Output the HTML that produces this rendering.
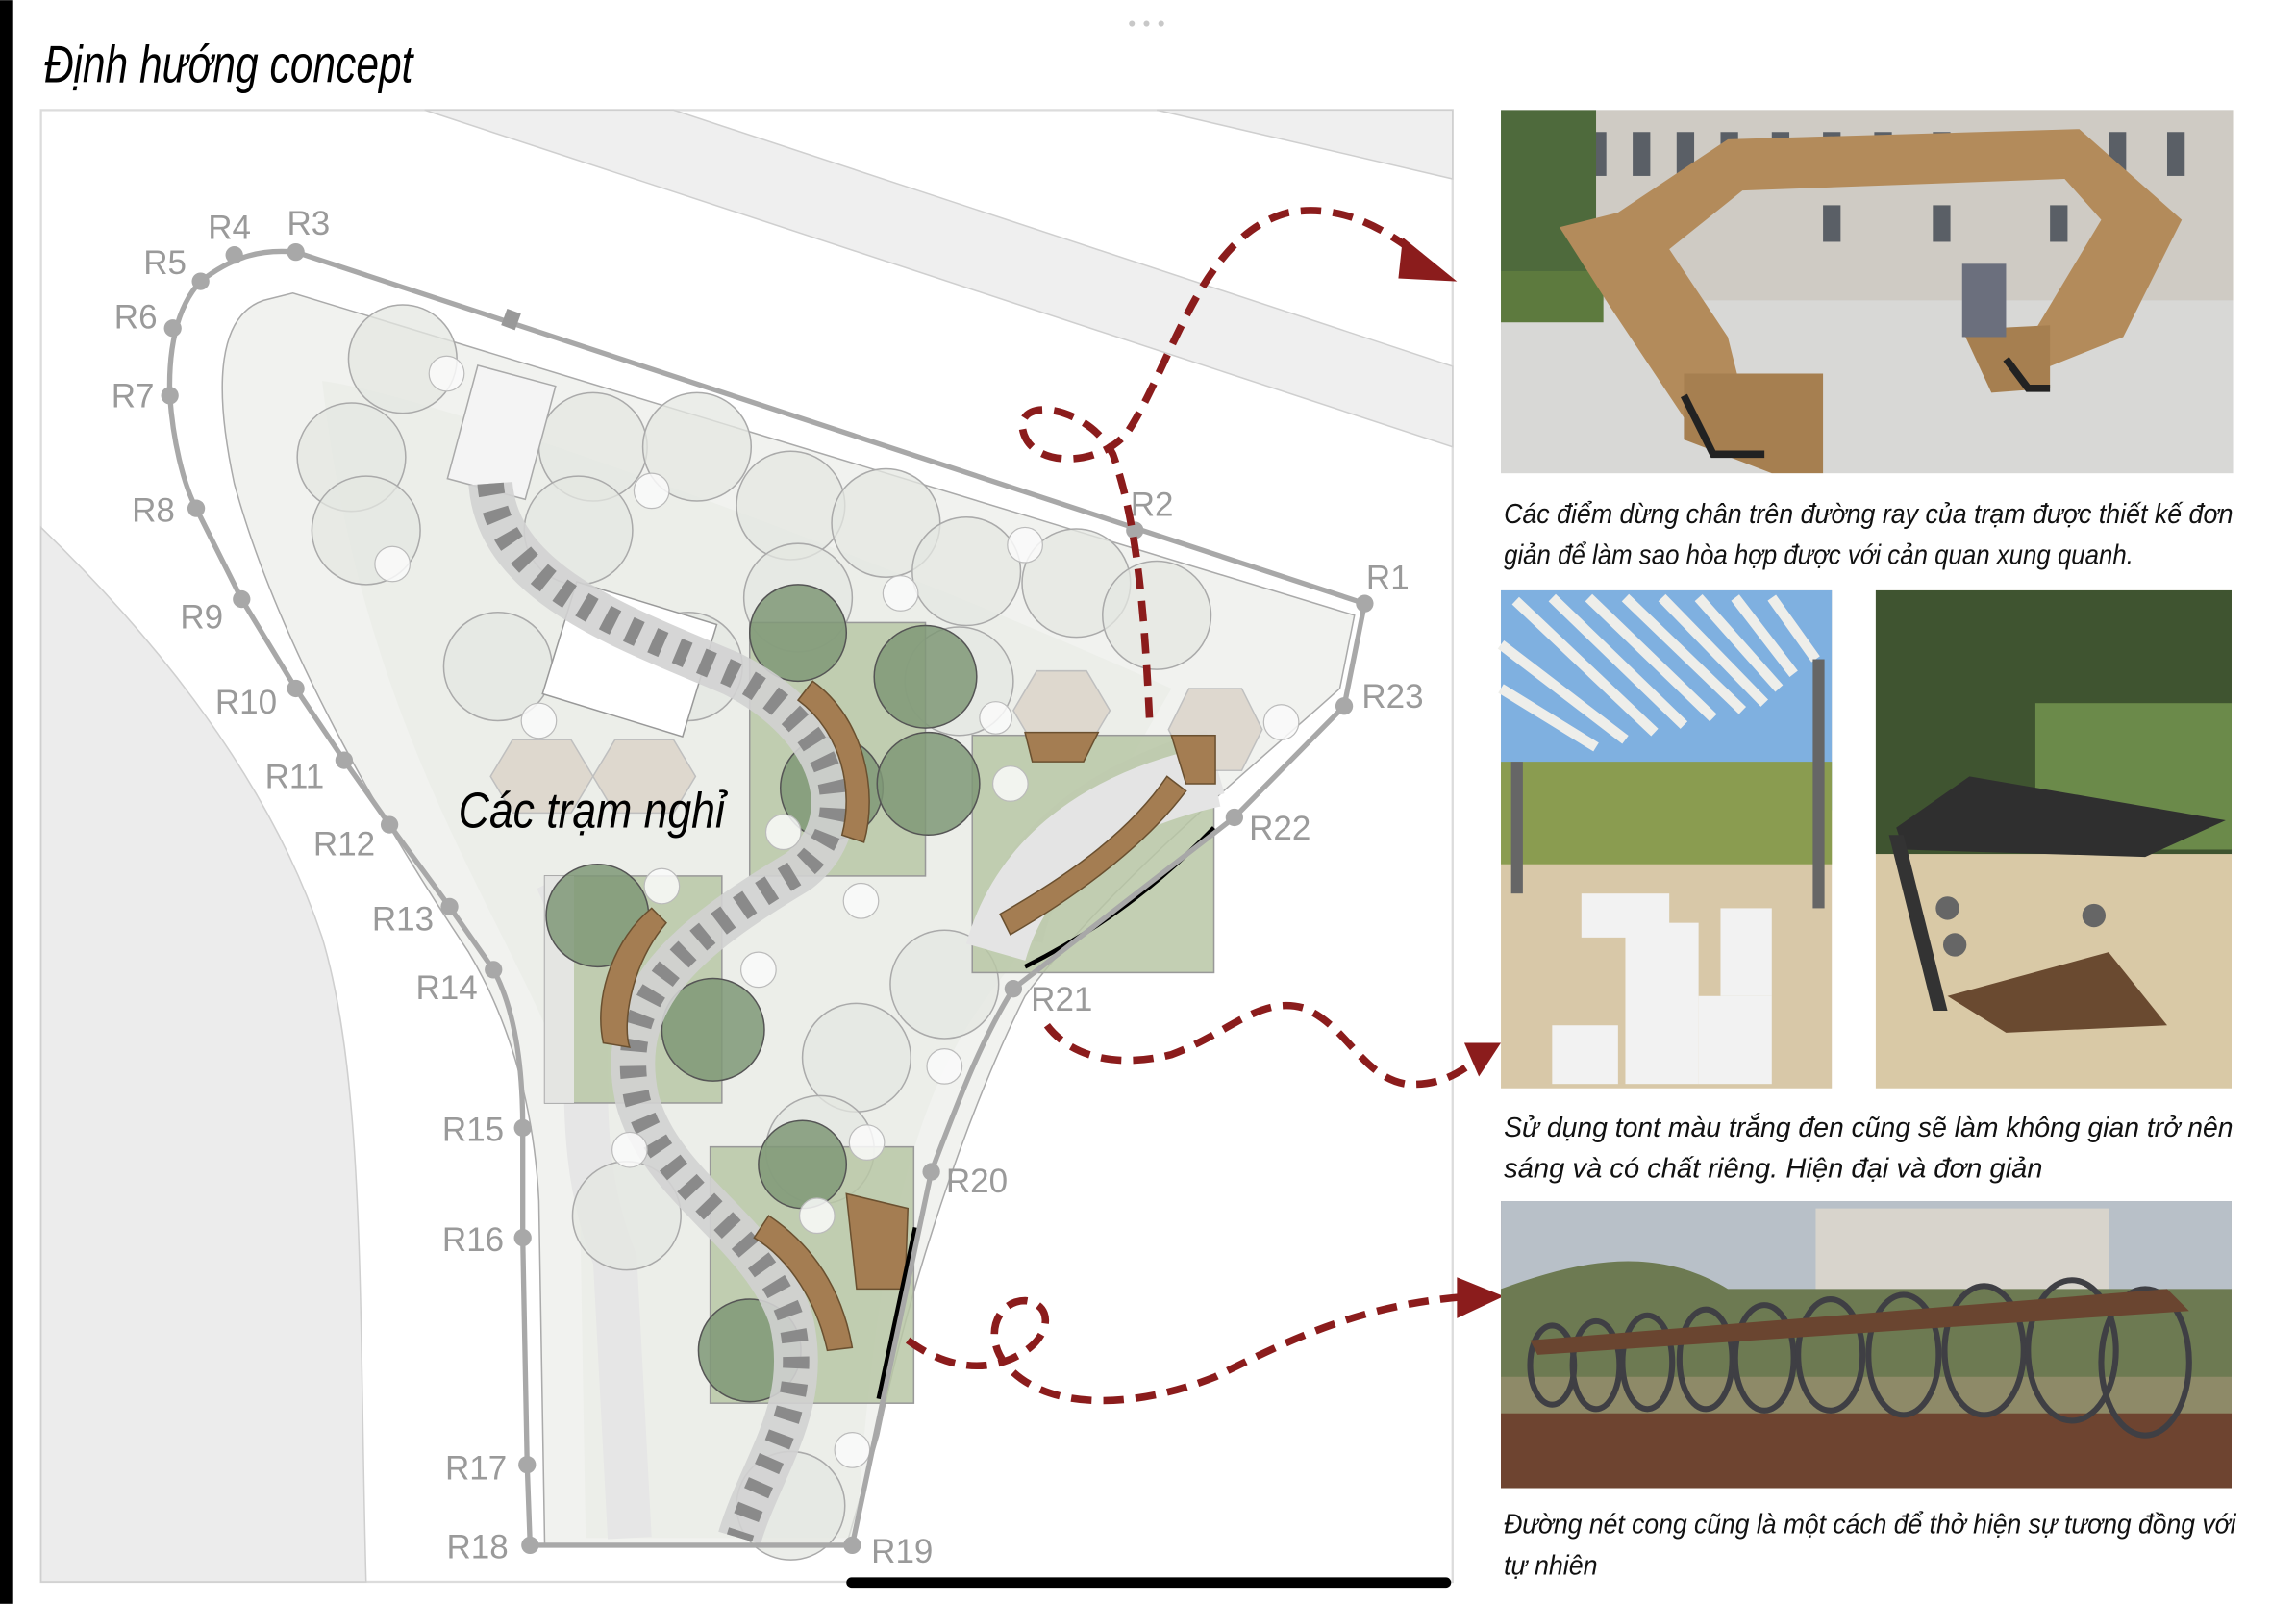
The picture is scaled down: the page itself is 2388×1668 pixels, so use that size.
<!DOCTYPE html>
<html><head><meta charset="utf-8"><style>
html,body{margin:0;padding:0;background:#fff;}
svg{display:block;}
text{font-family:"Liberation Sans",sans-serif;}
</style></head><body>
<svg width="2388" height="1668" viewBox="0 0 1568 1095" xmlns="http://www.w3.org/2000/svg">
<rect width="1568" height="1095" fill="#fff"/>
<rect x="0" y="0" width="9" height="1095" fill="#000"/>
<g fill="#c8c8c8"><circle cx="773" cy="16" r="2"/><circle cx="783" cy="16" r="2"/><circle cx="793" cy="16" r="2"/></g>
<text x="30" y="56" font-size="36" font-style="italic" textLength="252" lengthAdjust="spacingAndGlyphs" fill="#000">Định hướng concept</text>

<!-- map -->
<rect x="28" y="75" width="964" height="1005" fill="#fff" stroke="#dcdcdc" stroke-width="1.5"/>
<polygon points="290,75 460,75 992,250 992,305" fill="#efefef" stroke="#cfcfcf"/>
<polygon points="790,75 992,75 992,122" fill="#efefef" stroke="#cfcfcf"/>
<path d="M28,360 C 90,420 180,520 220,640 C 250,740 245,900 250,1080 L28,1080 Z" fill="#ececec" stroke="#cfcfcf"/>
<!-- site fill -->
<path d="M180,205 C 150,215 145,260 160,330 C 190,440 260,560 320,650 C 350,700 365,760 368,820 L372,1055 L578,1055 L600,980 C 620,880 660,760 700,680 C 760,600 860,520 915,470 L925,420 L200,200 Z" fill="#f1f2ef" stroke="#aaa" stroke-width="1"/>
<path d="M220,260 C 300,270 600,380 800,470 L690,660 C 640,720 600,800 585,1050 L400,1050 L395,760 C 360,640 250,520 220,260 Z" fill="#eaece7" opacity="0.7"/>
<path d="M690,640 C 700,580 760,540 830,520" fill="none" stroke="#e4e4e4" stroke-width="45"/>
<path d="M380,600 C 420,680 380,760 420,860 L430,1050" fill="none" stroke="#e6e6e6" stroke-width="30"/>
<!-- trees light -->
<g fill="#e4e7e2" fill-opacity="0.75" stroke="#aaa" stroke-width="1">
<circle cx="275" cy="245" r="37"/><circle cx="240" cy="312" r="37"/><circle cx="250" cy="362" r="37"/>
<circle cx="405" cy="305" r="37"/><circle cx="476" cy="305" r="37"/><circle cx="395" cy="362" r="37"/>
<circle cx="540" cy="345" r="37"/><circle cx="605" cy="357" r="37"/><circle cx="660" cy="390" r="37"/>
<circle cx="735" cy="398" r="37"/><circle cx="790" cy="420" r="37"/><circle cx="545" cy="408" r="37"/>
<circle cx="340" cy="455" r="37"/><circle cx="470" cy="455" r="37"/><circle cx="645" cy="672" r="37"/>
<circle cx="585" cy="722" r="37"/><circle cx="428" cy="830" r="37"/><circle cx="540" cy="1028" r="37"/>
<circle cx="560" cy="785" r="37"/><circle cx="655" cy="465" r="37"/>
</g>
<!-- umbrellas -->
<g fill="#ddd6cc" stroke="#bbb" stroke-width="1" opacity="0.9">
<polygon points="350,505 390,505 405,530 390,555 350,555 335,530"/>
<polygon points="420,505 460,505 475,530 460,555 420,555 405,530"/>
<polygon points="708,458 742,458 758,485 742,512 708,512 692,485"/>
<polygon points="812,470 848,470 862,498 848,526 812,526 798,498"/>
</g>
<rect x="315" y="255" width="55" height="80" fill="#f4f4f4" stroke="#aaa" transform="rotate(15 342 295)"/>
<rect x="380" y="410" width="100" height="80" fill="#fff" stroke="#999" transform="rotate(17 430 450)"/>
<!-- green squares -->
<g fill="#b9c7a6" fill-opacity="0.85" stroke="#999" stroke-width="1">
<rect x="512" y="425" width="120" height="173"/>
<rect x="372" y="598" width="121" height="155"/>
<rect x="664" y="502" width="165" height="162"/>
<rect x="485" y="783" width="139" height="175"/>
</g>
<rect x="372" y="598" width="20" height="155" fill="#e8e8e8" opacity="0.9"/>
<path d="M680,650 C 700,580 760,545 829,530" fill="none" stroke="#e4e4e4" stroke-width="42"/>
<!-- dark trees -->
<g fill="#7f9877" fill-opacity="0.85" stroke="#555" stroke-width="1">
<circle cx="545" cy="432" r="33"/><circle cx="568" cy="538" r="35"/><circle cx="632" cy="462" r="35"/>
<circle cx="634" cy="535" r="35"/><circle cx="408" cy="625" r="35"/><circle cx="487" cy="703" r="35"/>
<circle cx="512" cy="922" r="35"/><circle cx="548" cy="795" r="30"/>
</g>
<!-- curved walkway -->
<path d="M335,330 C 340,400 430,430 500,460 C 570,495 590,560 545,595 C 470,640 420,680 435,750 C 450,810 520,840 540,900 C 555,960 520,1000 505,1050" fill="none" stroke="#d2d2d2" stroke-width="30" stroke-opacity="0.9"/>
<path d="M335,330 C 340,400 430,430 500,460 C 570,495 590,560 545,595 C 470,640 420,680 435,750 C 450,810 520,840 540,900 C 555,960 520,1000 505,1050" fill="none" stroke="#8a8a8a" stroke-width="18" stroke-dasharray="8 10"/>
<!-- benches -->
<g fill="#a47d52" stroke="#6a5030" stroke-width="1">
<path d="M555,465 C 590,490 600,540 590,575 L575,570 C 583,540 575,500 545,478 Z"/>
<path d="M455,630 C 430,660 425,700 430,715 L412,712 C 405,680 420,640 445,620 Z"/>
<path d="M810,540 C 780,580 730,615 690,638 L683,624 C 725,600 770,570 797,530 Z"/>
<path d="M525,830 C 555,850 575,880 582,920 L565,922 C 558,890 540,860 515,845 Z"/>
<polygon points="700,500 750,500 740,520 705,520"/>
<polygon points="800,502 830,502 830,535 810,535"/>
<polygon points="578,815 620,825 618,880 585,880"/>
</g>
<!-- palms -->
<g fill="#fafafa" stroke="#bbb" stroke-width="0.8" fill-opacity="0.85">
<circle cx="305" cy="255" r="12"/><circle cx="268" cy="385" r="12"/><circle cx="445" cy="335" r="12"/>
<circle cx="615" cy="405" r="12"/><circle cx="700" cy="372" r="12"/><circle cx="368" cy="492" r="12"/>
<circle cx="535" cy="568" r="12"/><circle cx="452" cy="605" r="12"/><circle cx="588" cy="615" r="12"/>
<circle cx="518" cy="662" r="12"/><circle cx="645" cy="728" r="12"/><circle cx="558" cy="830" r="12"/>
<circle cx="430" cy="785" r="12"/><circle cx="592" cy="780" r="12"/><circle cx="690" cy="535" r="12"/>
<circle cx="680" cy="490" r="11"/><circle cx="875" cy="493" r="12"/><circle cx="582" cy="990" r="12"/>
</g>
<path d="M700,660 C 760,630 800,595 829,565" fill="none" stroke="#000" stroke-width="3"/>
<path d="M625,838 L600,955" fill="none" stroke="#000" stroke-width="3"/>
<!-- track -->
<path d="M202,172 C 180,170 160,174 137,192 C 120,210 115,240 116,270 C 118,300 125,330 134,347 L165,409 L202,470 L235,519 L266,563 L307,619 L337,662 C 352,690 357,730 357,770 L357,845 L360,1000 L362,1055 L582,1055 L636,800 C 655,750 670,710 692,675 L843,558 L918,482 L932,412 L202,172" fill="none" stroke="#a8a8a8" stroke-width="3.5"/>
<rect x="344" y="212" width="10" height="12" fill="#999" transform="rotate(20 349 218)"/>
<g fill="#a8a8a8">
<circle cx="202" cy="172" r="6"/><circle cx="160" cy="174" r="6"/><circle cx="137" cy="192" r="6"/>
<circle cx="118" cy="224" r="6"/><circle cx="116" cy="270" r="6"/><circle cx="134" cy="347" r="6"/>
<circle cx="165" cy="409" r="6"/><circle cx="202" cy="470" r="6"/><circle cx="235" cy="519" r="6"/>
<circle cx="266" cy="563" r="6"/><circle cx="307" cy="619" r="6"/><circle cx="337" cy="662" r="6"/>
<circle cx="357" cy="770" r="6"/><circle cx="357" cy="845" r="6"/><circle cx="360" cy="1000" r="6"/>
<circle cx="362" cy="1055" r="6"/><circle cx="582" cy="1055" r="6"/><circle cx="636" cy="800" r="6"/>
<circle cx="692" cy="675" r="6"/><circle cx="843" cy="558" r="6"/><circle cx="918" cy="482" r="6"/>
<circle cx="932" cy="412" r="6"/><circle cx="775" cy="362" r="6"/>
</g>
<g fill="#9a9a9a" font-size="23">
<text x="196" y="160">R3</text><text x="142" y="163">R4</text><text x="98" y="187">R5</text>
<text x="78" y="224">R6</text><text x="76" y="278">R7</text><text x="90" y="356">R8</text>
<text x="123" y="429">R9</text><text x="147" y="487">R10</text><text x="181" y="538">R11</text>
<text x="214" y="584">R12</text><text x="254" y="635">R13</text><text x="284" y="682">R14</text>
<text x="302" y="779">R15</text><text x="302" y="854">R16</text><text x="304" y="1010">R17</text>
<text x="305" y="1064">R18</text><text x="595" y="1067">R19</text><text x="646" y="814">R20</text>
<text x="704" y="690">R21</text><text x="853" y="573">R22</text><text x="930" y="483">R23</text>
<text x="933" y="402">R1</text><text x="772" y="352">R2</text>
</g>
<text x="313" y="565" font-size="34" font-style="italic" textLength="182" lengthAdjust="spacingAndGlyphs" fill="#000">Các trạm nghỉ</text>

<!-- red dashed arrows -->
<g fill="none" stroke="#8b1c1c" stroke-width="5" stroke-dasharray="14 8">
<path d="M785,490 C 782,430 778,360 760,310 C 745,280 700,270 698,290 C 700,320 750,320 770,295 C 800,250 820,160 880,145 C 920,138 950,160 970,175"/>
<path d="M715,700 C 730,720 760,730 800,720 C 840,705 860,680 890,688 C 920,700 930,735 960,740 C 985,742 1000,730 1010,722"/>
<path d="M620,915 C 640,930 665,938 690,928 C 720,915 720,890 700,888 C 680,888 670,915 690,935 C 720,965 780,960 830,940 C 880,915 930,890 1005,885"/>
</g>
<g fill="#8b1c1c">
<polygon points="958,162 995,192 955,190"/>
<polygon points="1000,712 1025,712 1010,735"/>
<polygon points="995,872 1027,885 995,900"/>
</g>
<rect x="578" y="1077" width="413" height="7" rx="3.5" fill="#000"/>

<!-- photo 1 -->
<g>
<rect x="1025" y="75" width="500" height="248" fill="#d0d0cf"/>
<rect x="1025" y="75" width="500" height="130" fill="#cfcbc4"/>
<g fill="#5a5f66">
<rect x="1085" y="90" width="12" height="30"/><rect x="1115" y="90" width="12" height="30"/><rect x="1145" y="90" width="12" height="30"/><rect x="1175" y="90" width="12" height="30"/><rect x="1210" y="90" width="12" height="30"/><rect x="1245" y="90" width="12" height="30"/><rect x="1280" y="90" width="12" height="30"/><rect x="1320" y="90" width="12" height="30"/><rect x="1360" y="90" width="12" height="30"/><rect x="1400" y="90" width="12" height="30"/><rect x="1440" y="90" width="12" height="30"/><rect x="1480" y="90" width="12" height="30"/>
<rect x="1245" y="140" width="12" height="25"/><rect x="1320" y="140" width="12" height="25"/><rect x="1400" y="140" width="12" height="25"/>
</g>
<rect x="1025" y="75" width="65" height="150" fill="#4e6a3c"/>
<rect x="1025" y="205" width="500" height="118" fill="#d8d8d6"/>
<rect x="1025" y="185" width="70" height="35" fill="#5d7a3e"/>
<path d="M1065,155 L1105,145 L1180,95 L1420,88 L1490,150 L1450,230 L1400,250 L1390,225 L1435,150 L1410,122 L1190,130 L1140,170 L1180,230 L1195,290 L1160,300 L1100,210 Z" fill="#b38b5b"/>
<polygon points="1150,255 1245,255 1245,323 1210,323 1150,300" fill="#a67f50"/>
<polygon points="1340,225 1400,222 1400,265 1360,268" fill="#a67f50"/>
<path d="M1150,270 L1170,310 L1205,310" fill="none" stroke="#222" stroke-width="5"/>
<path d="M1370,245 L1385,265 L1400,265" fill="none" stroke="#222" stroke-width="5"/>
<rect x="1340" y="180" width="30" height="50" fill="#6b6f7d"/>
</g>
<g font-size="19" font-style="italic" fill="#111">
<text x="1027" y="357" textLength="498" lengthAdjust="spacingAndGlyphs">Các điểm dừng chân trên đường ray của trạm được thiết kế đơn</text>
<text x="1027" y="385" textLength="430" lengthAdjust="spacingAndGlyphs">giản để làm sao hòa hợp được với cản quan xung quanh.</text>
</g>

<!-- photo 2 -->
<g>
<rect x="1025" y="403" width="226" height="340" fill="#d8c8a8"/>
<rect x="1025" y="403" width="226" height="150" fill="#7fb0e0"/>
<rect x="1025" y="520" width="226" height="70" fill="#8a9c50"/>
<g stroke="#eeeeea" stroke-width="7">
<line x1="1035" y1="410" x2="1130" y2="500"/><line x1="1060" y1="408" x2="1150" y2="495"/><line x1="1085" y1="408" x2="1170" y2="490"/><line x1="1110" y1="408" x2="1190" y2="485"/><line x1="1135" y1="408" x2="1205" y2="480"/><line x1="1160" y1="408" x2="1215" y2="470"/><line x1="1185" y1="408" x2="1225" y2="460"/><line x1="1210" y1="408" x2="1240" y2="450"/>
<line x1="1025" y1="440" x2="1110" y2="505"/><line x1="1025" y1="470" x2="1090" y2="510"/>
</g>
<rect x="1032" y="520" width="8" height="90" fill="#666"/><rect x="1238" y="450" width="8" height="170" fill="#666"/>
<g fill="#f2f2f2">
<rect x="1080" y="610" width="60" height="30"/><rect x="1110" y="630" width="50" height="110"/><rect x="1160" y="680" width="50" height="60"/><rect x="1060" y="700" width="45" height="40"/><rect x="1175" y="620" width="35" height="60"/>
</g>
<rect x="1281" y="403" width="243" height="340" fill="#d9c9a6"/>
<rect x="1281" y="403" width="243" height="180" fill="#3f5430"/>
<rect x="1390" y="480" width="134" height="100" fill="#6b8a4a"/>
<polygon points="1295,565 1345,530 1520,560 1465,585 1300,580" fill="#2f2f2f"/>
<polygon points="1290,570 1300,570 1330,690 1320,690" fill="#333"/>
<polygon points="1330,680 1440,650 1480,700 1370,705" fill="#6a4a30"/>
<g fill="#666"><circle cx="1330" cy="620" r="8"/><circle cx="1335" cy="645" r="8"/><circle cx="1430" cy="625" r="8"/></g>
</g>
<g font-size="19" font-style="italic" fill="#111">
<text x="1027" y="776" textLength="498" lengthAdjust="spacingAndGlyphs">Sử dụng tont màu trắng đen cũng sẽ làm không gian trở nên</text>
<text x="1027" y="804" textLength="368" lengthAdjust="spacingAndGlyphs">sáng và có chất riêng. Hiện đại và đơn giản</text>
</g>

<!-- photo 3 -->
<g>
<rect x="1025" y="820" width="499" height="196" fill="#7a4a30"/>
<rect x="1025" y="820" width="499" height="120" fill="#b8c0c8"/>
<rect x="1240" y="825" width="200" height="70" fill="#d8d4cc"/>
<path d="M1025,880 C 1080,860 1130,850 1180,880 L1524,880 L1524,960 L1025,960 Z" fill="#6d7a52"/>
<rect x="1025" y="940" width="499" height="25" fill="#8e8a68"/>
<rect x="1025" y="965" width="499" height="51" fill="#6e4430"/>
<g fill="none" stroke="#3f3f44" stroke-width="4">
<ellipse cx="1060" cy="932" rx="15" ry="27"/><ellipse cx="1090" cy="932" rx="16" ry="30"/><ellipse cx="1125" cy="930" rx="17" ry="32"/><ellipse cx="1165" cy="928" rx="18" ry="34"/><ellipse cx="1205" cy="927" rx="20" ry="36"/><ellipse cx="1250" cy="925" rx="22" ry="38"/><ellipse cx="1300" cy="925" rx="24" ry="41"/><ellipse cx="1355" cy="922" rx="27" ry="44"/><ellipse cx="1415" cy="922" rx="30" ry="48"/><ellipse cx="1465" cy="930" rx="30" ry="50"/>
</g>
<polygon points="1045,915 1480,880 1495,895 1050,925" fill="#6a4530"/>
</g>
<g font-size="19" font-style="italic" fill="#111">
<text x="1027" y="1047" textLength="500" lengthAdjust="spacingAndGlyphs">Đường nét cong cũng là một cách để thở hiện sự tương đồng với</text>
<text x="1027" y="1075" textLength="64" lengthAdjust="spacingAndGlyphs">tự nhiên</text>
</g>
</svg>
</body></html>
